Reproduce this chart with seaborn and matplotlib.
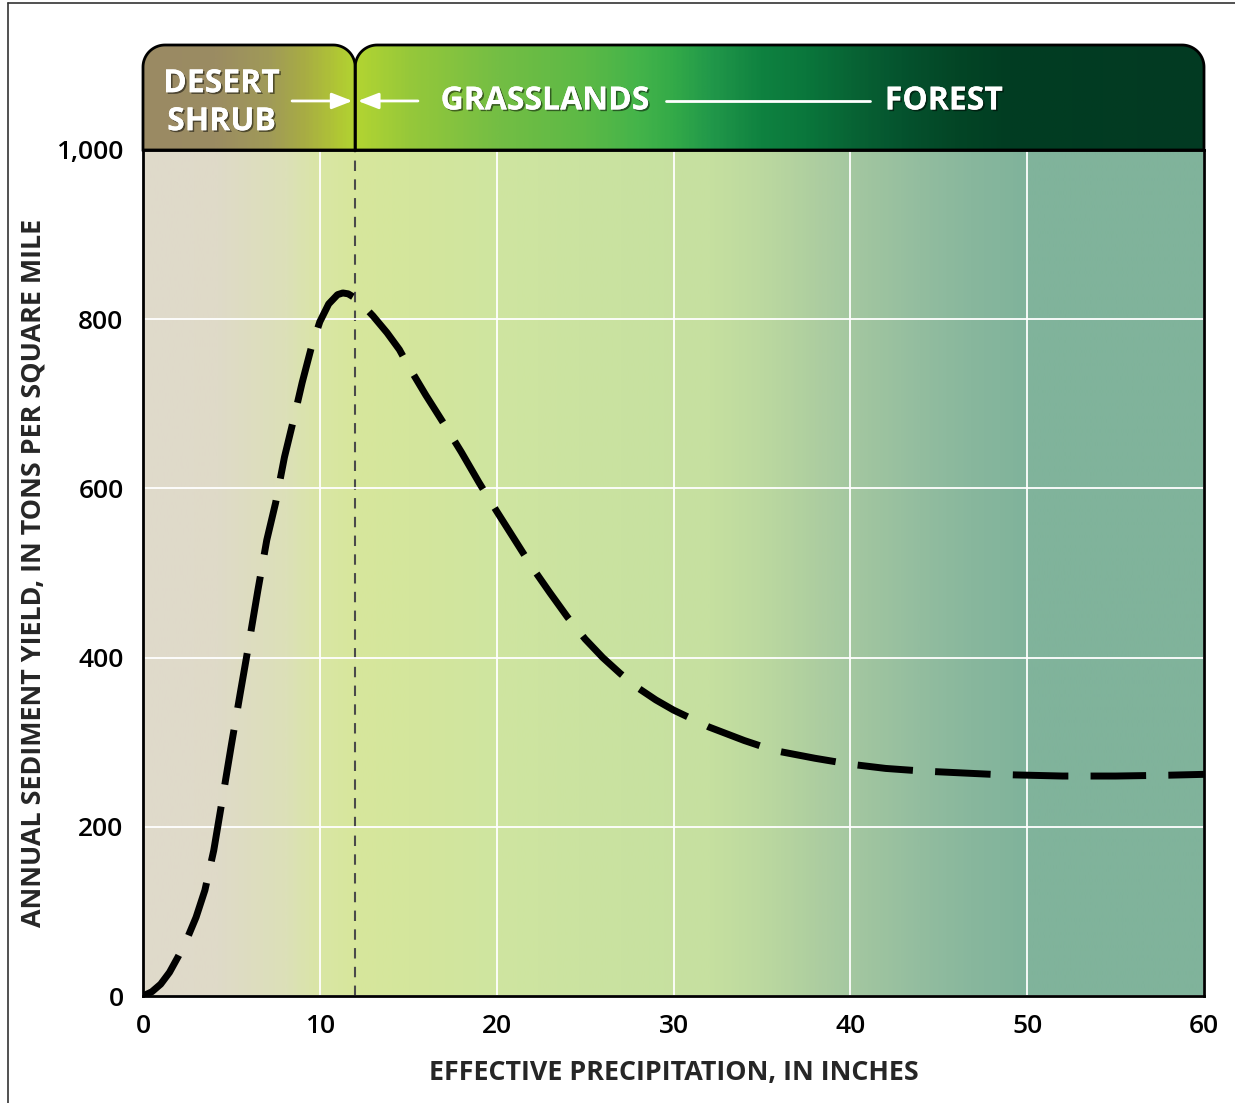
import numpy as np
import pandas as pd
import matplotlib
matplotlib.use("Agg")
import matplotlib.pyplot as plt
import seaborn as sns
from matplotlib.colors import LinearSegmentedColormap
from matplotlib.patches import PathPatch, FancyArrowPatch
from matplotlib.path import Path
import matplotlib.patheffects as pe

# ---------------- data ----------------
precip = [0, 0.5, 1.0, 1.5, 2.0, 2.5, 3.0, 3.5, 4.0, 4.5, 5.0, 5.5, 6.0, 6.5,
          7.0, 7.5, 8.0, 8.5, 9.0, 9.5, 10.0, 10.5, 11.0, 11.3, 11.6, 12.0,
          12.5, 13.0, 13.8, 14.5, 15.0, 16.0, 17.0, 18.0, 19.0, 20.0, 21.0,
          22.0, 23.0, 24.0, 25.0, 26.0, 27.0, 28.0, 29.0, 30.0, 31.0, 32.0,
          33.0, 34.0, 35.0, 36.0, 38.0, 40.0, 42.0, 44.0, 46.0, 48.0, 50.0,
          52.0, 55.0, 58.0, 60.0]
sediment = [0, 5, 14, 28, 47, 68, 93, 125, 172, 234, 297, 358, 418, 480,
            539, 583, 637, 680, 725, 765, 797, 818, 829, 831, 830, 825,
            815, 804, 784, 764, 745, 710, 677, 643, 607, 573, 540,
            507, 477, 448, 422, 400, 381, 364, 350, 338, 328, 318,
            310, 302, 295, 289, 281, 274, 269, 266, 264, 262, 261,
            260, 260, 261, 262]

x_ticks = [0, 10, 20, 30, 40, 50, 60]
y_ticks = [0, 200, 400, 600, 800, 1000]
y_tick_labels = ["0", "200", "400", "600", "800", "1,000"]
boundary_x = 12

zones = ["DESERT\nSHRUB", "GRASSLANDS", "FOREST"]

# background gradient stops (x position, colour)
bg_pos = [0, 4, 8, 10, 12, 15, 20, 27, 32, 35, 38, 41, 44, 47, 50, 60]
bg_col = ["#e0dacb", "#dfdac8", "#dce0b8", "#d9e6a4", "#d7e79c", "#d4e69c",
          "#cfe5a0", "#c9e2a0", "#c6e0a0", "#bcd99f", "#aecea0", "#a0c5a0",
          "#93bd9f", "#88b79d", "#80b39b", "#80b39b"]

# header gradient stops
hd_pos = [0, 4, 7, 9, 11, 12, 15, 20, 25, 28, 30, 32, 35, 37.5, 40, 43, 46, 49, 60]
hd_col = ["#9a8a64", "#9b8c62", "#a09a58", "#a8ac44", "#b0c834", "#b2d432",
          "#96c83a", "#74be44", "#5cb946", "#44b44a", "#33aa48", "#22994a",
          "#0f8240", "#0a773c", "#086535", "#05532e", "#034626", "#013d22",
          "#033a22"]

# ---------------- style ----------------
sns.set_style("white")
plt.rcParams["font.family"] = ["Open Sans", "DejaVu Sans"]

W, H = 1235, 1103
fig = plt.figure(figsize=(W / 100, H / 100), dpi=100)

L, R = 143, 1204
B, T = 996, 150
HT = 45

ax = fig.add_axes([L / W, (H - B) / H, (R - L) / W, (B - T) / H])
hax = fig.add_axes([L / W, (H - T) / H, (R - L) / W, (T - HT) / H])


def make_cmap(pos, cols, name):
    p = np.array(pos, dtype=float)
    p = (p - p.min()) / (p.max() - p.min())
    return LinearSegmentedColormap.from_list(name, list(zip(p, cols)))


bg_cmap = make_cmap(bg_pos, bg_col, "bg")
hd_cmap = make_cmap(hd_pos, hd_col, "hd")
grad = np.linspace(0, 1, 600).reshape(1, -1)

# ---------------- main axes ----------------
ax.imshow(grad, cmap=bg_cmap, aspect="auto", extent=[0, 60, 0, 1000],
          zorder=0, interpolation="bilinear")
ax.set_xlim(0, 60)
ax.set_ylim(0, 1000)
ax.set_xticks(x_ticks)
ax.set_yticks(y_ticks)
ax.set_yticklabels(y_tick_labels)
ax.grid(True, color="white", lw=1.3)
ax.set_axisbelow(False)
for g in ax.get_xgridlines() + ax.get_ygridlines():
    g.set_zorder(1)

ax.axvline(boundary_x, color="#4a4a4a", lw=1.5, ls=(0, (5, 4)), zorder=2)

df = pd.DataFrame({"precip": precip, "sediment": sediment})
sns.lineplot(data=df, x="precip", y="sediment", ax=ax, color="black",
             lw=5, estimator=None, sort=False, zorder=3)
line = ax.lines[-1]
line.set_linestyle((0, (8, 3.2)))
line.set_dash_capstyle("butt")
line.set_solid_joinstyle("round")

for s in ax.spines.values():
    s.set_color("black")
    s.set_linewidth(2)
    s.set_zorder(5)

ax.tick_params(axis="both", length=0, labelsize=19, colors="black")
ax.tick_params(axis="y", pad=14)
ax.tick_params(axis="x", pad=13)
for lab in ax.get_xticklabels() + ax.get_yticklabels():
    lab.set_fontweight("semibold")

ax.set_xlabel("EFFECTIVE PRECIPITATION, IN INCHES", fontsize=19.4,
              fontweight="bold", labelpad=15)
ax.set_ylabel("ANNUAL SEDIMENT YIELD, IN TONS PER SQUARE MILE", fontsize=19.4,
              fontweight="bold", labelpad=7)

# ---------------- header ----------------
hax.set_xlim(0, 60)
hax.set_ylim(0, 1)
hax.axis("off")

px_x = (R - L) / 60.0
px_y = (T - HT)
rad = 22
rx, ry = rad / px_x, rad / px_y


def rounded_top(x0, x1):
    verts = [(x0, 0), (x0, 1 - ry)]
    t = np.linspace(np.pi, np.pi / 2, 20)
    verts += [(x0 + rx + rx * np.cos(a), 1 - ry + ry * np.sin(a)) for a in t]
    t = np.linspace(np.pi / 2, 0, 20)
    verts += [(x1 - rx + rx * np.cos(a), 1 - ry + ry * np.sin(a)) for a in t]
    verts += [(x1, 0), (x0, 0)]
    codes = [Path.MOVETO] + [Path.LINETO] * (len(verts) - 2) + [Path.CLOSEPOLY]
    return Path(verts, codes)


for (x0, x1) in [(0, boundary_x), (boundary_x, 60)]:
    path = rounded_top(x0, x1)
    clip = PathPatch(path, transform=hax.transData, facecolor="none",
                     edgecolor="none")
    hax.add_patch(clip)
    im = hax.imshow(grad, cmap=hd_cmap, aspect="auto", extent=[0, 60, 0, 1],
                    interpolation="bilinear", zorder=1)
    im.set_clip_path(clip)
    edge = PathPatch(path, transform=hax.transData, facecolor="none",
                     edgecolor="black", lw=2, zorder=4, clip_on=False)
    hax.add_patch(edge)

t1 = hax.text(4.45, 0.45, zones[0], ha="center", va="center", color="white",
              fontsize=23, fontweight="bold", zorder=6, linespacing=1.2)
t2 = hax.text(22.75, 0.467, zones[1], ha="center", va="center", color="white",
              fontsize=23, fontweight="bold", zorder=6)
t3 = hax.text(41.95, 0.467, zones[2], ha="left", va="center", color="white",
              fontsize=23, fontweight="bold", zorder=6)
for t in (t1, t2, t3):
    t.set_path_effects([pe.withSimplePatchShadow(offset=(1.2, -1.2),
                                                 shadow_rgbFace="black",
                                                 alpha=0.5),
                        pe.Normal()])

ay = 0.467
arr_kw = dict(arrowstyle="-|>,head_length=0.9,head_width=0.35", color="white",
              lw=2, mutation_scale=14, zorder=5, shrinkA=0, shrinkB=0)
hax.add_patch(FancyArrowPatch((8.43, ay), (11.85, ay), **arr_kw))
hax.add_patch(FancyArrowPatch((15.55, ay), (12.15, ay), **arr_kw))
hax.plot([29.58, 41.1], [ay, ay], color="white", lw=2, zorder=5)

# ---------------- frame lines ----------------
fig.add_artist(plt.Line2D([8 / W, 8 / W], [0, 1 - 3 / H], color="#333333",
                          lw=1.2, transform=fig.transFigure))
fig.add_artist(plt.Line2D([8 / W, 1], [1 - 3 / H, 1 - 3 / H], color="#333333",
                          lw=1.2, transform=fig.transFigure))

fig.savefig("out.png", dpi=100)
